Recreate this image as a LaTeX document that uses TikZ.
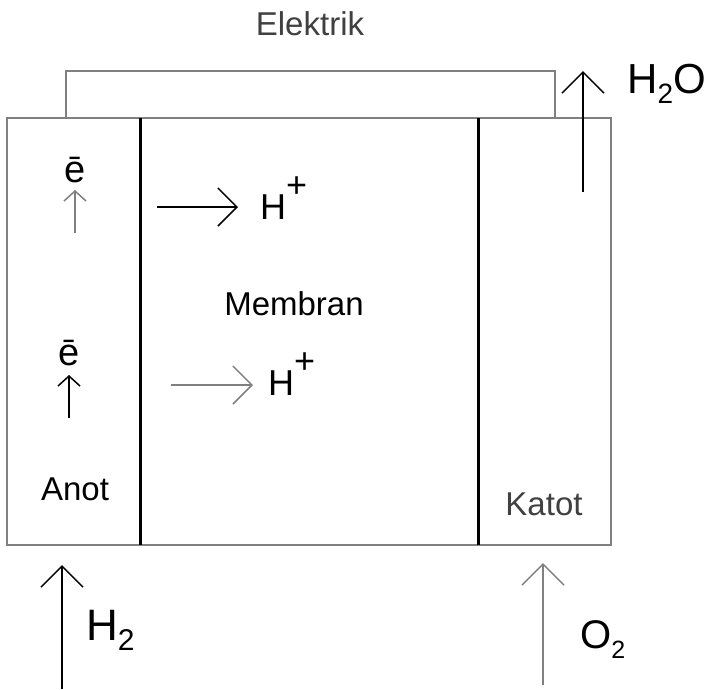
\documentclass[tikz,border=0pt]{standalone}
\usepackage{fontspec}
\setmainfont{Liberation Sans}
\usetikzlibrary{arrows.meta}
\begin{document}
\begin{tikzpicture}[x=1pt, y=-1pt,
    frame/.style={draw=gray, line width=2.2pt},
    electrode/.style={draw=black, line width=3pt},
    gasflow/.style={-{Straight Barb[length=21pt, width=42pt]}, line width=1.5pt},
    eflow/.style={-{Straight Barb[length=10pt, width=22pt]}, line width=1.5pt},
    ionflow/.style={-{Straight Barb[length=19pt, width=38pt]}, line width=1.5pt},
    txt/.style={font=\fontsize{33}{38}\selectfont, inner sep=0pt, anchor=base},
    elabel/.style={font=\fontsize{38}{42}\selectfont, inner sep=0pt, anchor=base},
    ion/.style={font=\fontsize{36}{40}\selectfont, inner sep=0pt, anchor=base west}]
    \useasboundingbox (0,0) rectangle (705,689);

    % Cell body
    \draw[frame] (7,118) rectangle (611,545);
    \draw[frame] (66,118) -- (66,71) -- (555,71) -- (555,118);
    \draw[electrode] (140,118) -- (140,545);
    \draw[electrode] (478,118) -- (478,545);

    % Labels
    \node[txt, text=black!75] (elektrik) at (310,35) {Elektrik};
    \node[txt] (membran) at (294,315) {Membran};
    \node[txt] (anot) at (75,500) {Anot};
    \node[txt, text=black!75] (katot) at (544,515) {Katot};

    % Electrons (anode)
    \node[elabel] (e1) at (75,182) {\=e};
    \node[elabel] (e2) at (69,365) {\=e};
    \coordinate (e1from) at (75,233);
    \coordinate (e1to) at (75,190);
    \coordinate (e2from) at (69,418);
    \coordinate (e2to) at (69,375);
    \draw[eflow, gray] (e1from) -- (e1to);
    \draw[eflow] (e2from) -- (e2to);

    % Protons through membrane
    \node[ion] (hplus1) at (260,219) {H\raisebox{22pt}{+}};
    \node[ion] (hplus2) at (268,395) {H\raisebox{22pt}{+}};
    \coordinate (p1from) at (157,207);
    \coordinate (p2from) at (171,385);
    \draw[ionflow] (p1from) -- (238,207) coordinate (p1to);
    \draw[ionflow, gray] (p2from) -- (253,385) coordinate (p2to);

    % Gases
    \node[font=\fontsize{42}{46}\selectfont, inner sep=0pt, anchor=base west] (h2o) at (627,93)
        {H\raisebox{-10pt}{\fontsize{28}{30}\selectfont 2}O};
    \node[font=\fontsize{44}{48}\selectfont, inner sep=0pt, anchor=base west] (h2) at (86,640)
        {H\raisebox{-10pt}{\fontsize{30}{32}\selectfont 2}};
    \node[font=\fontsize{40}{44}\selectfont, inner sep=0pt, anchor=base west] (o2) at (580,648)
        {O\raisebox{-10pt}{\fontsize{25}{28}\selectfont 2}};
    \coordinate (h2ofrom) at (583,192);
    \coordinate (h2oto) at (583,71);
    \coordinate (h2from) at (62,689);
    \coordinate (h2to) at (62,565);
    \coordinate (o2from) at (543,685);
    \coordinate (o2to) at (543,563);
    \draw[gasflow] (h2ofrom) -- (h2oto);
    \draw[gasflow] (h2from) -- (h2to);
    \draw[gasflow, gray] (o2from) -- (o2to);

\end{tikzpicture}
\end{document}
